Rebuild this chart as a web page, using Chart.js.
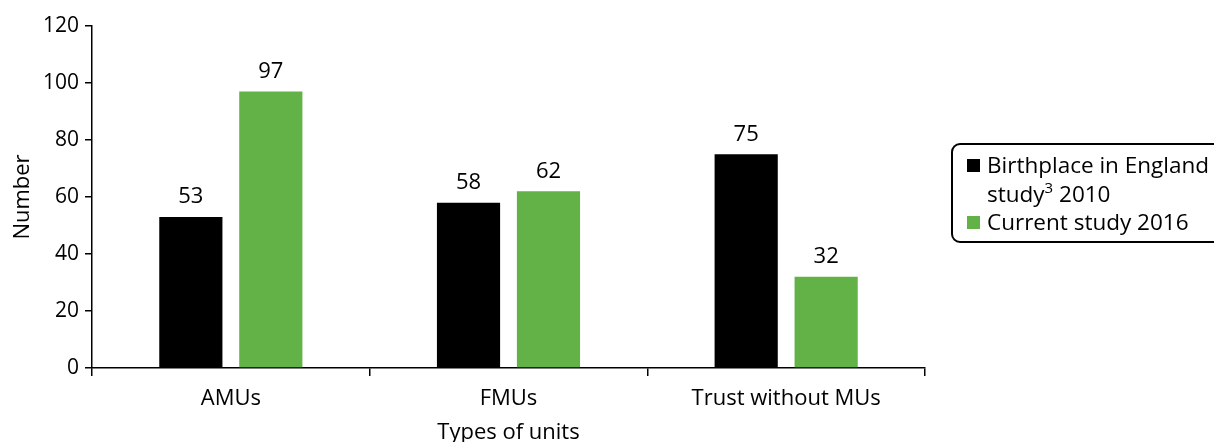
<!DOCTYPE html>
<html>
<head>
<meta charset="utf-8">
<script src="https://cdn.jsdelivr.net/npm/chart.js@4/dist/chart.umd.min.js"></script>
<style>
  html, body { margin: 0; padding: 0; background: #fff; overflow: hidden; }
  #wrap { position: relative; width: 1214px; height: 442px; }
  canvas { position: absolute; left: 0; top: 0; }
  #legend {
    position: absolute; left: 951px; top: 143px; width: 290px; height: 100px;
    border: 2px solid #000; border-radius: 9px; box-sizing: border-box;
    font-family: "Open Sans", sans-serif; font-size: 22.5px; color: #000; line-height: 29px;
    white-space: nowrap;
  }
  .item { position: absolute; left: 34px; }
  .sw { position: absolute; left: -20px; top: 9px; width: 13px; height: 13px; }
  sup { font-size: 15px; line-height: 0; position: relative; top: -1px; }
</style>
</head>
<body>
<div id="wrap">
  <canvas id="c" width="1214" height="442"></canvas>
  <div id="legend"></div>
</div>
<script>
const categories = ["AMUs", "FMUs", "Trust without MUs"];
const series2010 = [53, 58, 75];
const series2016 = [97, 62, 32];
const seriesColors = ["#000000", "#62b247"];
const yTicks = [0, 20, 40, 60, 80, 100, 120];

const FONT = "'Open Sans', sans-serif";
const FS = 22;

// legend (HTML text)
const lg = document.getElementById('legend');
const lines = [
  { html: 'Birthplace in England<br>study<sup>3</sup> 2010', color: seriesColors[0], top: 5 },
  { html: 'Current study 2016', color: seriesColors[1], top: 62 }
];
lines.forEach(l => {
  const d = document.createElement('div');
  d.className = 'item';
  d.style.top = l.top + 'px';
  d.innerHTML = '<span class="sw" style="background:' + l.color + '"></span>' + l.html;
  lg.appendChild(d);
});

const valueLabels = {
  id: 'valueLabels',
  afterDatasetsDraw(chart) {
    const ctx = chart.ctx;
    ctx.save();
    ctx.font = FS + "px " + FONT;
    ctx.fillStyle = "#000";
    ctx.textAlign = "center";
    ctx.textBaseline = "middle";
    chart.data.datasets.forEach((ds, i) => {
      chart.getDatasetMeta(i).data.forEach((bar, j) => {
        ctx.fillText(String(ds.data[j]), bar.x, bar.y - 20);
      });
    });
    ctx.restore();
  }
};

new Chart(document.getElementById('c'), {
  type: 'bar',
  data: {
    labels: categories,
    datasets: [
      { label: 'Birthplace in England study 2010', data: series2010, backgroundColor: seriesColors[0] },
      { label: 'Current study 2016', data: series2016, backgroundColor: seriesColors[1] }
    ]
  },
  options: {
    responsive: false,
    animation: false,
    devicePixelRatio: 1,
    categoryPercentage: 0.576,
    barPercentage: 0.79,
    layout: { padding: { left: 0, right: 289, top: 26, bottom: 0 } },
    plugins: { legend: { display: false }, tooltip: { enabled: false } },
    scales: {
      x: {
        offset: true,
        afterFit(axis) { axis.height = 74; },
        grid: { display: true, drawOnChartArea: false, offset: true, color: '#000', lineWidth: 1.5, tickLength: 8 },
        border: { display: true, color: '#000', width: 1.5 },
        ticks: { color: '#000', font: { family: FONT, size: FS }, padding: 10 },
        title: { display: true, text: 'Types of units', color: '#000', font: { family: FONT, size: FS, lineHeight: 0.85 }, padding: { top: 0, bottom: 0 } }
      },
      y: {
        min: 0, max: 120,
        afterFit(axis) { axis.width = 92; },
        afterBuildTicks(axis) { axis.ticks = yTicks.map(v => ({ value: v })); },
        grid: { display: true, drawOnChartArea: false, color: '#000', lineWidth: 1.5, tickLength: 7 },
        border: { display: true, color: '#000', width: 1.5 },
        ticks: { color: '#000', font: { family: FONT, size: 21 }, padding: 6 },
        title: { display: true, text: 'Number', color: '#000', font: { family: FONT, size: FS, lineHeight: 1 }, padding: { top: 12, bottom: 0 } }
      }
    }
  },
  plugins: [valueLabels]
});
</script>
</body>
</html>
